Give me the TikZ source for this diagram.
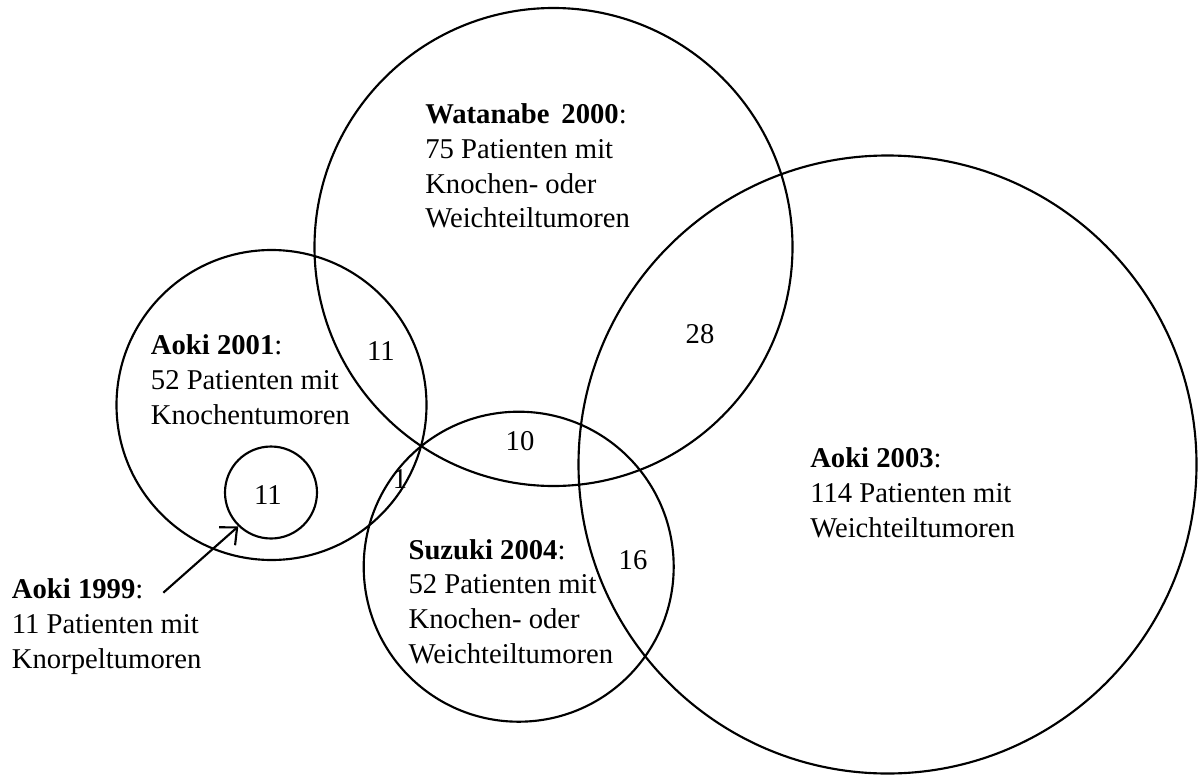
\documentclass[tikz,border=0pt]{standalone}
\usepackage{fontspec}
\setmainfont{Liberation Serif}
\usetikzlibrary{arrows.meta}
\begin{document}
\begin{tikzpicture}[x=0.75pt,y=-0.75pt,
  circ/.style={draw=black, line width=1.6pt, circle, inner sep=0pt},
  lbl/.style={inner sep=0pt, anchor=base west, align=left, font=\fontsize{21.5}{26}\selectfont},
  num/.style={inner sep=0pt, anchor=base, font=\fontsize{21.5}{26}\selectfont},
  arr/.style={line width=1.6pt, -{Straight Barb[length=10pt,width=18pt,line width=1.6pt]}}]
\useasboundingbox (0,0) rectangle (1198,774);
% circles
\node[circ, minimum size=358.5pt] (cW) at (553.5,247) {};
\node[circ, minimum size=463.5pt] (cA03) at (887.5,464.5) {};
\node[circ, minimum size=232.5pt] (cA01) at (271.5,405) {};
\node[circ, minimum size=232.5pt] (cS04) at (518.7,566.7) {};
\node[circ, minimum size=69pt] (c99) at (271,492.5) {};
% labels (anchor on baseline of last line)
\node[lbl] (tW) at (425,227.7) {\textbf{Watanabe\ \,2000}:\\75 Patienten mit\\Knochen- oder\\Weichteiltumoren};
\node[lbl] (tA03) at (810,537.3) {\textbf{Aoki 2003}:\\114 Patienten mit\\Weichteiltumoren};
\node[lbl] (tA01) at (150.7,424.3) {\textbf{Aoki 2001}:\\52 Patienten mit\\Knochentumoren};
\node[lbl] (tS04) at (408.3,663.3) {\textbf{Suzuki 2004}:\\52 Patienten mit\\Knochen- oder\\Weichteiltumoren};
\node[lbl] (tA99) at (11.7,668.3) {\textbf{Aoki 1999}:\\11 Patienten mit\\Knorpeltumoren};
% numbers
\node[num] (n28) at (700,343) {28};
\node[num] (n16) at (633,569) {16};
\node[num] (n11a) at (381,360) {11};
\node[num] (n11b) at (268,504) {11};
\node[num] (n10) at (520,450.7) {10};
\node[num] (n1) at (400,488) {1};
% arrow
\coordinate (arrS) at (163.3,592.7);
\draw[arr] (arrS) -- (c99.226);
\end{tikzpicture}
\end{document}
